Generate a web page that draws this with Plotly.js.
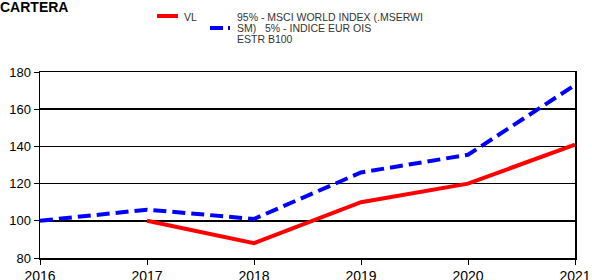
<!DOCTYPE html>
<html><head><meta charset="utf-8">
<script src="https://cdn.plot.ly/plotly-3.0.1.min.js"></script>
<style>html,body{margin:0;padding:0;background:#fff}#chart{width:592px;height:280px}</style>
</head><body><div id="chart"></div>
<script>
var years = [2016, 2017, 2018, 2019, 2020, 2021];
var vlYears = [2017, 2018, 2019, 2020, 2021];
var vlValues = [100, 88, 110, 120, 141];
var benchValues = [100, 106, 101, 126, 135.5, 173];
var vlName = 'VL';
var benchNameLines = ['95% - MSCI WORLD INDEX (.MSERWI', 'SM)   5% - INDICE EUR OIS', 'ESTR B100'];
var yTicks = [80, 100, 120, 140, 160, 180];
var chartTitle = 'CARTERA';

var W = 592, H = 280, M = {l: 40, r: 17, t: 72, b: 22};
var pw = W - M.l - M.r, ph = H - M.t - M.b;
function px(x) { return (x - M.l) / pw; }
function py(y) { return (H - M.b - y) / ph; }

var traces = [
  {x: vlYears, y: vlValues, name: vlName, type: 'scatter', mode: 'lines',
   line: {color: '#ff0000', width: 4}},
  {x: years, y: benchValues, name: benchNameLines.join(' '), type: 'scatter', mode: 'lines',
   line: {color: '#0000ff', width: 4, dash: '13px,6px'}}
];

var legFont = {size: 10.5, color: '#333', family: 'Arial, Liberation Sans, sans-serif'};
var annotations = [
  {text: vlName, x: px(183), y: py(16.5), xref: 'paper', yref: 'paper', xanchor: 'left', yanchor: 'middle',
   showarrow: false, font: legFont, borderpad: 0}
];
benchNameLines.forEach(function (t, i) {
  annotations.push({text: t, x: px(236), y: py(17 + 11 * i), xref: 'paper', yref: 'paper',
    xanchor: 'left', yanchor: 'middle', showarrow: false, font: legFont, borderpad: 0});
});
var shapes = [
  {type: 'line', xref: 'paper', yref: 'paper', x0: px(157), x1: px(178), y0: py(16), y1: py(16),
   line: {color: traces[0].line.color, width: 4}},
  {type: 'line', xref: 'paper', yref: 'paper', x0: px(210), x1: px(230), y0: py(28), y1: py(28),
   line: {color: traces[1].line.color, width: 4, dash: '13px,5px'}}
];

var layout = {
  width: W, height: H,
  margin: M,
  paper_bgcolor: '#fff', plot_bgcolor: '#fff',
  font: {family: 'Arial, Liberation Sans, sans-serif', color: '#000'},
  title: {text: '<b>' + chartTitle + '</b>', x: 0, xref: 'container', xanchor: 'left',
          y: 1 - 6.7 / H, yref: 'container', yanchor: 'middle',
          font: {size: 14, color: '#000', family: 'Arial, Liberation Sans, sans-serif'}},
  showlegend: false,
  annotations: annotations,
  shapes: shapes,
  xaxis: {range: [2016, 2021], tickvals: years, ticktext: years.map(String),
          showgrid: false, zeroline: false, showline: true, linecolor: '#000', linewidth: 1.5,
          mirror: true, ticks: 'outside', ticklen: 5, tickcolor: '#000',
          tickfont: {size: 14, color: '#000'}},
  yaxis: {range: [80, 180], tickvals: yTicks, showgrid: true, gridcolor: '#000', gridwidth: 1.5,
          zeroline: false, showline: true, linecolor: '#000', linewidth: 1.5, mirror: true,
          ticks: 'outside', ticklen: 5, tickcolor: '#000', tickfont: {size: 13, color: '#000'}}
};
Plotly.newPlot('chart', traces, layout, {displayModeBar: false, staticPlot: true});
</script></body></html>
